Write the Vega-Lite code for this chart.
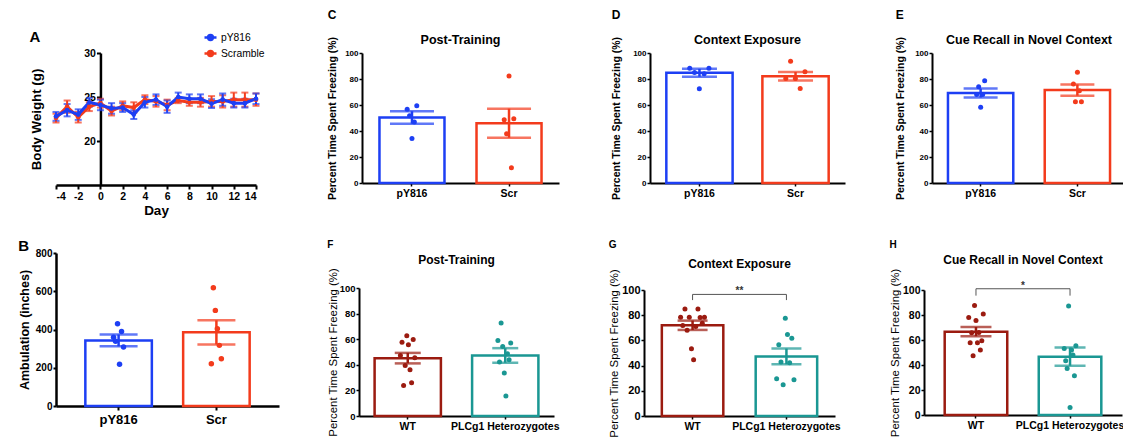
{
  "$schema": "https://vega.github.io/schema/vega-lite/v6.json",
  "background": "white",
  "padding": {"left": 18, "top": 9, "right": 2, "bottom": 2},
  "config": {
    "font": "Liberation Sans",
    "view": {"stroke": null},
    "axis": {"grid": false, "domainColor": "black", "tickColor": "black", "labelColor": "black", "titleColor": "black", "labelFontWeight": "bold", "titleFontWeight": "bold", "labelFont": "Liberation Sans", "titleFont": "Liberation Sans", "labelOverlap": false},
    "title": {"color": "black", "fontWeight": "bold", "font": "Liberation Sans"},
    "legend": {"labelFont": "Liberation Sans", "labelColor": "black"}
  },
  "resolve": {"scale": {"color": "independent", "stroke": "independent"}},
  "datasets": {
    "weights": [
      {"day": -4, "series": "Scramble", "mean": 22.6, "sem": 0.5},
      {"day": -3, "series": "Scramble", "mean": 23.9, "sem": 0.7},
      {"day": -2, "series": "Scramble", "mean": 22.7, "sem": 0.6},
      {"day": -1, "series": "Scramble", "mean": 23.9, "sem": 0.5},
      {"day": 0, "series": "Scramble", "mean": 24.3, "sem": 0.5},
      {"day": 1, "series": "Scramble", "mean": 23.4, "sem": 0.5},
      {"day": 2, "series": "Scramble", "mean": 24.0, "sem": 0.5},
      {"day": 3, "series": "Scramble", "mean": 23.8, "sem": 0.6},
      {"day": 4, "series": "Scramble", "mean": 24.7, "sem": 0.5},
      {"day": 5, "series": "Scramble", "mean": 24.5, "sem": 0.6},
      {"day": 6, "series": "Scramble", "mean": 24.1, "sem": 0.6},
      {"day": 7, "series": "Scramble", "mean": 24.6, "sem": 0.3},
      {"day": 8, "series": "Scramble", "mean": 24.4, "sem": 0.4},
      {"day": 9, "series": "Scramble", "mean": 24.4, "sem": 0.5},
      {"day": 10, "series": "Scramble", "mean": 24.5, "sem": 0.6},
      {"day": 11, "series": "Scramble", "mean": 24.5, "sem": 0.7},
      {"day": 12, "series": "Scramble", "mean": 24.7, "sem": 0.8},
      {"day": 13, "series": "Scramble", "mean": 24.7, "sem": 0.8},
      {"day": 14, "series": "Scramble", "mean": 24.7, "sem": 0.7},
      {"day": -4, "series": "pY816", "mean": 22.8, "sem": 0.5},
      {"day": -3, "series": "pY816", "mean": 23.5, "sem": 0.7},
      {"day": -2, "series": "pY816", "mean": 23.0, "sem": 0.6},
      {"day": -1, "series": "pY816", "mean": 24.4, "sem": 0.5},
      {"day": 0, "series": "pY816", "mean": 24.1, "sem": 0.6},
      {"day": 1, "series": "pY816", "mean": 23.7, "sem": 0.6},
      {"day": 2, "series": "pY816", "mean": 23.8, "sem": 0.5},
      {"day": 3, "series": "pY816", "mean": 23.0, "sem": 0.5},
      {"day": 4, "series": "pY816", "mean": 24.4, "sem": 0.6},
      {"day": 5, "series": "pY816", "mean": 24.7, "sem": 0.6},
      {"day": 6, "series": "pY816", "mean": 23.9, "sem": 0.7},
      {"day": 7, "series": "pY816", "mean": 25.0, "sem": 0.5},
      {"day": 8, "series": "pY816", "mean": 24.8, "sem": 0.5},
      {"day": 9, "series": "pY816", "mean": 24.8, "sem": 0.5},
      {"day": 10, "series": "pY816", "mean": 24.25, "sem": 0.5},
      {"day": 11, "series": "pY816", "mean": 24.7, "sem": 0.7},
      {"day": 12, "series": "pY816", "mean": 24.3, "sem": 0.5},
      {"day": 13, "series": "pY816", "mean": 24.3, "sem": 0.5},
      {"day": 14, "series": "pY816", "mean": 24.8, "sem": 0.6}
    ],
    "bars": [
      {"panel": "B", "group": "pY816", "mean": 343, "sem": 31},
      {"panel": "B", "group": "Scr", "mean": 385, "sem": 63},
      {"panel": "C", "group": "pY816", "mean": 50.4, "sem": 4.8},
      {"panel": "C", "group": "Scr", "mean": 46.0, "sem": 11.2},
      {"panel": "D", "group": "pY816", "mean": 84.8, "sem": 3.0},
      {"panel": "D", "group": "Scr", "mean": 82.1, "sem": 3.3},
      {"panel": "E", "group": "pY816", "mean": 69.2, "sem": 3.4},
      {"panel": "E", "group": "Scr", "mean": 71.5, "sem": 4.3},
      {"panel": "F", "group": "WT", "mean": 45.2, "sem": 4.1},
      {"panel": "F", "group": "PLCg1 Heterozygotes", "mean": 47.3, "sem": 5.7},
      {"panel": "G", "group": "WT", "mean": 72.0, "sem": 3.7},
      {"panel": "G", "group": "PLCg1 Heterozygotes", "mean": 47.3, "sem": 6.2},
      {"panel": "H", "group": "WT", "mean": 66.7, "sem": 3.7},
      {"panel": "H", "group": "PLCg1 Heterozygotes", "mean": 46.7, "sem": 7.3}
    ],
    "dots": [
      {"panel": "B", "group": "pY816", "id": 1, "value": 360},
      {"panel": "B", "group": "pY816", "id": 2, "value": 338},
      {"panel": "B", "group": "pY816", "id": 3, "value": 430},
      {"panel": "B", "group": "pY816", "id": 4, "value": 218},
      {"panel": "B", "group": "pY816", "id": 5, "value": 390},
      {"panel": "B", "group": "pY816", "id": 6, "value": 308},
      {"panel": "B", "group": "Scr", "id": 1, "value": 221},
      {"panel": "B", "group": "Scr", "id": 2, "value": 618},
      {"panel": "B", "group": "Scr", "id": 3, "value": 500},
      {"panel": "B", "group": "Scr", "id": 4, "value": 404},
      {"panel": "B", "group": "Scr", "id": 5, "value": 317},
      {"panel": "B", "group": "Scr", "id": 6, "value": 247},
      {"panel": "C", "group": "pY816", "id": 1, "value": 56.8},
      {"panel": "C", "group": "pY816", "id": 2, "value": 51.7},
      {"panel": "C", "group": "pY816", "id": 3, "value": 34.2},
      {"panel": "C", "group": "pY816", "id": 4, "value": 47.0},
      {"panel": "C", "group": "pY816", "id": 5, "value": 59.4},
      {"panel": "C", "group": "Scr", "id": 1, "value": 48.6},
      {"panel": "C", "group": "Scr", "id": 2, "value": 37.8},
      {"panel": "C", "group": "Scr", "id": 3, "value": 82.3},
      {"panel": "C", "group": "Scr", "id": 4, "value": 11.8},
      {"panel": "C", "group": "Scr", "id": 5, "value": 49.4},
      {"panel": "D", "group": "pY816", "id": 1, "value": 88.2},
      {"panel": "D", "group": "pY816", "id": 2, "value": 85.0},
      {"panel": "D", "group": "pY816", "id": 3, "value": 72.5},
      {"panel": "D", "group": "pY816", "id": 4, "value": 84.0},
      {"panel": "D", "group": "pY816", "id": 5, "value": 88.2},
      {"panel": "D", "group": "Scr", "id": 1, "value": 80.3},
      {"panel": "D", "group": "Scr", "id": 2, "value": 93.6},
      {"panel": "D", "group": "Scr", "id": 3, "value": 80.3},
      {"panel": "D", "group": "Scr", "id": 4, "value": 72.6},
      {"panel": "D", "group": "Scr", "id": 5, "value": 85.6},
      {"panel": "E", "group": "pY816", "id": 1, "value": 68.0},
      {"panel": "E", "group": "pY816", "id": 2, "value": 74.1},
      {"panel": "E", "group": "pY816", "id": 3, "value": 58.2},
      {"panel": "E", "group": "pY816", "id": 4, "value": 68.0},
      {"panel": "E", "group": "pY816", "id": 5, "value": 78.7},
      {"panel": "E", "group": "Scr", "id": 1, "value": 76.2},
      {"panel": "E", "group": "Scr", "id": 2, "value": 62.5},
      {"panel": "E", "group": "Scr", "id": 3, "value": 85.1},
      {"panel": "E", "group": "Scr", "id": 4, "value": 71.0},
      {"panel": "E", "group": "Scr", "id": 5, "value": 62.5},
      {"panel": "F", "group": "WT", "id": 1, "value": 47.3},
      {"panel": "F", "group": "WT", "id": 2, "value": 57.7},
      {"panel": "F", "group": "WT", "id": 3, "value": 23.9},
      {"panel": "F", "group": "WT", "id": 4, "value": 39.5},
      {"panel": "F", "group": "WT", "id": 5, "value": 62.6},
      {"panel": "F", "group": "WT", "id": 6, "value": 55.6},
      {"panel": "F", "group": "WT", "id": 7, "value": 36.1},
      {"panel": "F", "group": "WT", "id": 8, "value": 26.0},
      {"panel": "F", "group": "WT", "id": 9, "value": 59.7},
      {"panel": "F", "group": "WT", "id": 10, "value": 45.5},
      {"panel": "F", "group": "PLCg1 Heterozygotes", "id": 1, "value": 59.0},
      {"panel": "F", "group": "PLCg1 Heterozygotes", "id": 2, "value": 42.1},
      {"panel": "F", "group": "PLCg1 Heterozygotes", "id": 3, "value": 72.7},
      {"panel": "F", "group": "PLCg1 Heterozygotes", "id": 4, "value": 54.3},
      {"panel": "F", "group": "PLCg1 Heterozygotes", "id": 5, "value": 33.5},
      {"panel": "F", "group": "PLCg1 Heterozygotes", "id": 6, "value": 15.6},
      {"panel": "F", "group": "PLCg1 Heterozygotes", "id": 7, "value": 48.6},
      {"panel": "F", "group": "PLCg1 Heterozygotes", "id": 8, "value": 43.9},
      {"panel": "F", "group": "PLCg1 Heterozygotes", "id": 9, "value": 57.1},
      {"panel": "G", "group": "WT", "id": 1, "value": 78.4},
      {"panel": "G", "group": "WT", "id": 2, "value": 71.8},
      {"panel": "G", "group": "WT", "id": 3, "value": 85.0},
      {"panel": "G", "group": "WT", "id": 4, "value": 68.1},
      {"panel": "G", "group": "WT", "id": 5, "value": 78.4},
      {"panel": "G", "group": "WT", "id": 6, "value": 53.3},
      {"panel": "G", "group": "WT", "id": 7, "value": 44.6},
      {"panel": "G", "group": "WT", "id": 8, "value": 71.0},
      {"panel": "G", "group": "WT", "id": 9, "value": 85.0},
      {"panel": "G", "group": "WT", "id": 10, "value": 78.1},
      {"panel": "G", "group": "WT", "id": 11, "value": 73.6},
      {"panel": "G", "group": "WT", "id": 12, "value": 78.4},
      {"panel": "G", "group": "PLCg1 Heterozygotes", "id": 2, "value": 29.5},
      {"panel": "G", "group": "PLCg1 Heterozygotes", "id": 3, "value": 56.5},
      {"panel": "G", "group": "PLCg1 Heterozygotes", "id": 4, "value": 42.8},
      {"panel": "G", "group": "PLCg1 Heterozygotes", "id": 5, "value": 24.8},
      {"panel": "G", "group": "PLCg1 Heterozygotes", "id": 6, "value": 77.6},
      {"panel": "G", "group": "PLCg1 Heterozygotes", "id": 7, "value": 64.7},
      {"panel": "G", "group": "PLCg1 Heterozygotes", "id": 8, "value": 42.2},
      {"panel": "G", "group": "PLCg1 Heterozygotes", "id": 9, "value": 61.8},
      {"panel": "G", "group": "PLCg1 Heterozygotes", "id": 10, "value": 28.7},
      {"panel": "H", "group": "WT", "id": 1, "value": 78.1},
      {"panel": "H", "group": "WT", "id": 2, "value": 57.9},
      {"panel": "H", "group": "WT", "id": 3, "value": 65.9},
      {"panel": "H", "group": "WT", "id": 4, "value": 47.5},
      {"panel": "H", "group": "WT", "id": 5, "value": 87.7},
      {"panel": "H", "group": "WT", "id": 6, "value": 75.7},
      {"panel": "H", "group": "WT", "id": 7, "value": 57.9},
      {"panel": "H", "group": "WT", "id": 8, "value": 66.1},
      {"panel": "H", "group": "WT", "id": 9, "value": 52.0},
      {"panel": "H", "group": "WT", "id": 10, "value": 59.5},
      {"panel": "H", "group": "WT", "id": 11, "value": 80.8},
      {"panel": "H", "group": "PLCg1 Heterozygotes", "id": 2, "value": 53.3},
      {"panel": "H", "group": "PLCg1 Heterozygotes", "id": 3, "value": 43.5},
      {"panel": "H", "group": "PLCg1 Heterozygotes", "id": 4, "value": 37.3},
      {"panel": "H", "group": "PLCg1 Heterozygotes", "id": 5, "value": 87.2},
      {"panel": "H", "group": "PLCg1 Heterozygotes", "id": 6, "value": 6.1},
      {"panel": "H", "group": "PLCg1 Heterozygotes", "id": 7, "value": 52.0},
      {"panel": "H", "group": "PLCg1 Heterozygotes", "id": 8, "value": 48.0},
      {"panel": "H", "group": "PLCg1 Heterozygotes", "id": 9, "value": 31.5},
      {"panel": "H", "group": "PLCg1 Heterozygotes", "id": 10, "value": 55.5}
    ],
    "brackets": [
      {"panel": "G", "group": "WT", "y": 92, "k": 1},
      {"panel": "G", "group": "WT", "y": 96.5, "k": 2},
      {"panel": "G", "group": "PLCg1 Heterozygotes", "y": 96.5, "k": 3},
      {"panel": "G", "group": "PLCg1 Heterozygotes", "y": 92, "k": 4},
      {"panel": "H", "group": "WT", "y": 95.5, "k": 1},
      {"panel": "H", "group": "WT", "y": 101, "k": 2},
      {"panel": "H", "group": "PLCg1 Heterozygotes", "y": 101, "k": 3},
      {"panel": "H", "group": "PLCg1 Heterozygotes", "y": 95.5, "k": 4}
    ],
    "stars": [
      {"panel": "G", "group": "WT", "y": 96.5, "label": "**"},
      {"panel": "H", "group": "WT", "y": 101, "label": "*"}
    ]
  },
  "columns": 4,
  "align": "none",
  "spacing": {"row": 22, "column": 48},
  "concat": [
    {
      "width": 200, "height": 132,
      "title": {"text": "A", "anchor": "start", "frame": "bounds", "fontSize": 15, "offset": -28},
      "encoding": {
        "x": {"field": "day", "type": "quantitative", "title": "Day", "scale": {"domain": [-4, 14], "nice": false},
              "axis": {"values": [-4, -2, 0, 2, 4, 6, 8, 10, 12, 14], "labelExpr": "'' + datum.value", "titleFontSize": 13.5, "labelFontSize": 10.5, "domainWidth": 2.5, "tickWidth": 2, "tickSize": 4, "labelPadding": 2, "titlePadding": 2}},
        "y": {"field": "mean", "type": "quantitative", "title": "Body Weight (g)", "scale": {"domain": [15, 30], "nice": false, "zero": false},
              "axis": {"values": [20, 25, 30], "titleFontSize": 13.3, "labelFontSize": 10.5, "offset": -44.44, "titleX": -57, "titleY": 66, "domainWidth": 2.5, "tickWidth": 2, "tickSize": 4, "labelPadding": 1}},
        "color": {"field": "series", "type": "nominal", "scale": {"domain": ["pY816", "Scramble"], "range": ["#1d3ff4", "#f33b1c"]},
                  "legend": {"title": null, "orient": "none", "legendX": 134, "legendY": -36, "padding": 13, "labelFontSize": 10.3, "labelFontWeight": "normal", "symbolType": "M-1,0L1,0M-0.4,0A0.4,0.4,0,1,1,0.4,0A0.4,0.4,0,1,1,-0.4,0", "symbolSize": 144, "symbolStrokeWidth": 2.5, "labelOffset": 3, "rowPadding": 1, "values": ["pY816", "Scramble"],
                             "encode": {"symbols": {"update": {"fill": {"scale": "color", "field": "value"}}}}}}
      },
      "layer": [
        {
          "data": {"name": "weights"},
          "mark": {"type": "errorbar", "thickness": 2, "ticks": {"size": 7, "thickness": 2}},
          "encoding": {"yError": {"field": "sem"}}
        },
        {
          "data": {"name": "weights"},
          "mark": {"type": "line", "strokeWidth": 3, "point": {"filled": true, "size": 22}}
        }
      ]
    },
    {
      "title": {"text": "C", "anchor": "start", "frame": "bounds", "fontSize": 12, "offset": 12},
      "vconcat": [{
        "width": 197, "height": 130,
        "title": {"text": "Post-Training", "fontSize": 12.5, "frame": "group", "anchor": "middle", "offset": -10.5},
        "resolve": {"scale": {"xOffset": "independent"}},
        "encoding": {
          "x": {"field": "group", "type": "nominal", "title": null, "scale": {"domain": ["pY816", "Scr"], "paddingInner": 0.33, "paddingOuter": 0.18},
                "axis": {"labelAngle": 0, "labelFontSize": 10.5, "domainWidth": 2, "tickWidth": 1.5, "tickSize": 3, "labelPadding": 2}},
          "y": {"field": "mean", "type": "quantitative", "title": "Percent Time Spent Freezing (%)", "scale": {"domain": [0, 100]},
                "axis": {"values": [0, 20, 40, 60, 80, 100], "titleFontSize": 10.5, "labelFontSize": 8, "domainWidth": 2, "tickWidth": 1.5, "tickSize": 3, "labelPadding": 1, "titlePadding": 7}}
        },
        "layer": [
          {"data": {"name": "bars"}, "transform": [{"filter": "datum.panel === 'C'"}],
           "mark": {"type": "bar", "fill": "white", "strokeWidth": 2.5},
           "encoding": {"stroke": {"field": "group", "type": "nominal", "scale": {"domain": ["pY816", "Scr"], "range": ["#1d3ff4", "#f33b1c"]}, "legend": null}}},
          {"data": {"name": "bars"}, "transform": [{"filter": "datum.panel === 'C'"}],
           "mark": {"type": "errorbar", "thickness": 2.5, "ticks": {"size": 44, "thickness": 2.5}},
           "encoding": {"yError": {"field": "sem"}, "color": {"field": "group", "type": "nominal", "scale": {"domain": ["pY816", "Scr"], "range": ["#1d3ff4", "#f33b1c"]}, "legend": null}}},
          {"data": {"name": "dots"}, "transform": [{"filter": "datum.panel === 'C'"}],
           "mark": {"type": "circle", "size": 25, "opacity": 1},
           "encoding": {
             "xOffset": {"field": "id", "type": "nominal", "scale": {"type": "point", "range": [26.5, 38.5]}},
             "y": {"field": "value", "type": "quantitative", "title": "Percent Time Spent Freezing (%)", "axis": {"values": [0, 20, 40, 60, 80, 100], "titleFontSize": 10.5, "labelFontSize": 8, "domainWidth": 2, "tickWidth": 1.5, "tickSize": 3, "labelPadding": 1, "titlePadding": 7}},
             "color": {"field": "group", "type": "nominal", "legend": null}
           }}
        ]
      }]
    },
    {
      "title": {"text": "D", "anchor": "start", "frame": "bounds", "fontSize": 12, "offset": 12},
      "vconcat": [{
        "width": 195, "height": 130,
        "title": {"text": "Context Exposure", "fontSize": 12.5, "frame": "group", "anchor": "middle", "offset": -10.5},
        "resolve": {"scale": {"xOffset": "independent"}},
        "encoding": {
          "x": {"field": "group", "type": "nominal", "title": null, "scale": {"domain": ["pY816", "Scr"], "paddingInner": 0.31, "paddingOuter": 0.17},
                "axis": {"labelAngle": 0, "labelFontSize": 10.5, "domainWidth": 2, "tickWidth": 1.5, "tickSize": 3, "labelPadding": 2}},
          "y": {"field": "mean", "type": "quantitative", "title": "Percent Time Spent Freezing (%)", "scale": {"domain": [0, 100]},
                "axis": {"values": [0, 20, 40, 60, 80, 100], "titleFontSize": 10.5, "labelFontSize": 8, "domainWidth": 2, "tickWidth": 1.5, "tickSize": 3, "labelPadding": 1, "titlePadding": 11}}
        },
        "layer": [
          {"data": {"name": "bars"}, "transform": [{"filter": "datum.panel === 'D'"}],
           "mark": {"type": "bar", "fill": "white", "strokeWidth": 2.5},
           "encoding": {"stroke": {"field": "group", "type": "nominal", "scale": {"domain": ["pY816", "Scr"], "range": ["#1d3ff4", "#f33b1c"]}, "legend": null}}},
          {"data": {"name": "bars"}, "transform": [{"filter": "datum.panel === 'D'"}],
           "mark": {"type": "errorbar", "thickness": 2.5, "ticks": {"size": 35, "thickness": 2.5}},
           "encoding": {"yError": {"field": "sem"}, "color": {"field": "group", "type": "nominal", "scale": {"domain": ["pY816", "Scr"], "range": ["#1d3ff4", "#f33b1c"]}, "legend": null}}},
          {"data": {"name": "dots"}, "transform": [{"filter": "datum.panel === 'D'"}],
           "mark": {"type": "circle", "size": 25, "opacity": 1},
           "encoding": {
             "xOffset": {"field": "id", "type": "nominal", "scale": {"type": "point", "range": [21, 45]}},
             "y": {"field": "value", "type": "quantitative", "title": "Percent Time Spent Freezing (%)", "axis": {"values": [0, 20, 40, 60, 80, 100], "titleFontSize": 10.5, "labelFontSize": 8, "domainWidth": 2, "tickWidth": 1.5, "tickSize": 3, "labelPadding": 1, "titlePadding": 11}},
             "color": {"field": "group", "type": "nominal", "legend": null}
           }}
        ]
      }]
    },
    {
      "title": {"text": "E", "anchor": "start", "frame": "bounds", "fontSize": 12, "offset": 12},
      "vconcat": [{
        "width": 194, "height": 130,
        "title": {"text": "Cue Recall in Novel Context", "fontSize": 12.5, "frame": "group", "anchor": "middle", "offset": -10.5},
        "resolve": {"scale": {"xOffset": "independent"}},
        "encoding": {
          "x": {"field": "group", "type": "nominal", "title": null, "scale": {"domain": ["pY816", "Scr"], "paddingInner": 0.325, "paddingOuter": 0.165},
                "axis": {"labelAngle": 0, "labelFontSize": 10.5, "domainWidth": 2, "tickWidth": 1.5, "tickSize": 3, "labelPadding": 2}},
          "y": {"field": "mean", "type": "quantitative", "title": "Percent Time Spent Freezing (%)", "scale": {"domain": [0, 100]},
                "axis": {"values": [0, 20, 40, 60, 80, 100], "titleFontSize": 10.5, "labelFontSize": 8, "domainWidth": 2, "tickWidth": 1.5, "tickSize": 3, "labelPadding": 1, "titlePadding": 9}}
        },
        "layer": [
          {"data": {"name": "bars"}, "transform": [{"filter": "datum.panel === 'E'"}],
           "mark": {"type": "bar", "fill": "white", "strokeWidth": 2.5},
           "encoding": {"stroke": {"field": "group", "type": "nominal", "scale": {"domain": ["pY816", "Scr"], "range": ["#1d3ff4", "#f33b1c"]}, "legend": null}}},
          {"data": {"name": "bars"}, "transform": [{"filter": "datum.panel === 'E'"}],
           "mark": {"type": "errorbar", "thickness": 2.5, "ticks": {"size": 34, "thickness": 2.5}},
           "encoding": {"yError": {"field": "sem"}, "color": {"field": "group", "type": "nominal", "scale": {"domain": ["pY816", "Scr"], "range": ["#1d3ff4", "#f33b1c"]}, "legend": null}}},
          {"data": {"name": "dots"}, "transform": [{"filter": "datum.panel === 'E'"}],
           "mark": {"type": "circle", "size": 25, "opacity": 1},
           "encoding": {
             "xOffset": {"field": "id", "type": "nominal", "scale": {"type": "point", "range": [27.7, 37.7]}},
             "y": {"field": "value", "type": "quantitative", "title": "Percent Time Spent Freezing (%)", "axis": {"values": [0, 20, 40, 60, 80, 100], "titleFontSize": 10.5, "labelFontSize": 8, "domainWidth": 2, "tickWidth": 1.5, "tickSize": 3, "labelPadding": 1, "titlePadding": 9}},
             "color": {"field": "group", "type": "nominal", "legend": null}
           }}
        ]
      }]
    },
    {
      "title": {"text": "B", "anchor": "start", "frame": "bounds", "fontSize": 15, "offset": -6},
      "vconcat": [{
        "width": 223, "height": 153,
        "resolve": {"scale": {"xOffset": "independent"}},
        "encoding": {
          "x": {"field": "group", "type": "nominal", "title": null, "scale": {"domain": ["pY816", "Scr"], "paddingInner": 0.32, "paddingOuter": 0.3},
                "axis": {"labelAngle": 0, "labelFontSize": 13, "domainWidth": 2.5, "tickWidth": 2, "tickSize": 4, "labelPadding": 3}},
          "y": {"field": "mean", "type": "quantitative", "title": "Ambulation (inches)", "scale": {"domain": [0, 800]},
                "axis": {"values": [0, 200, 400, 600, 800], "titleFontSize": 12.5, "labelFontSize": 10, "domainWidth": 2.5, "tickWidth": 2, "tickSize": 3, "labelPadding": 1, "titlePadding": 4}}
        },
        "layer": [
          {"data": {"name": "bars"}, "transform": [{"filter": "datum.panel === 'B'"}],
           "mark": {"type": "bar", "fill": "white", "strokeWidth": 2.5},
           "encoding": {"stroke": {"field": "group", "type": "nominal", "scale": {"domain": ["pY816", "Scr"], "range": ["#1d3ff4", "#f33b1c"]}, "legend": null}}},
          {"data": {"name": "bars"}, "transform": [{"filter": "datum.panel === 'B'"}],
           "mark": {"type": "errorbar", "thickness": 2.5, "ticks": {"size": 38, "thickness": 2.5}},
           "encoding": {"yError": {"field": "sem"}, "color": {"field": "group", "type": "nominal", "scale": {"domain": ["pY816", "Scr"], "range": ["#1d3ff4", "#f33b1c"]}, "legend": null}}},
          {"data": {"name": "dots"}, "transform": [{"filter": "datum.panel === 'B'"}],
           "mark": {"type": "circle", "size": 30, "opacity": 1},
           "encoding": {
             "xOffset": {"field": "id", "type": "nominal", "scale": {"type": "point", "range": [27.2, 39.2]}},
             "y": {"field": "value", "type": "quantitative", "title": "Ambulation (inches)", "axis": {"values": [0, 200, 400, 600, 800], "titleFontSize": 12.5, "labelFontSize": 10, "domainWidth": 2.5, "tickWidth": 2, "tickSize": 3, "labelPadding": 1, "titlePadding": 4}},
             "color": {"field": "group", "type": "nominal", "legend": null}
           }}
        ]
      }]
    },
    {
      "title": {"text": "F", "anchor": "start", "frame": "bounds", "fontSize": 10, "offset": 4},
      "vconcat": [{
        "width": 195, "height": 128,
        "title": {"text": "Post-Training", "fontSize": 12, "frame": "group", "anchor": "middle", "offset": 1},
        "resolve": {"scale": {"xOffset": "independent"}},
        "encoding": {
          "x": {"field": "group", "type": "nominal", "title": null, "scale": {"domain": ["WT", "PLCg1 Heterozygotes"], "paddingInner": 0.32, "paddingOuter": 0.16},
                "axis": {"labelAngle": 0, "labelFontSize": 10.5, "domainWidth": 2, "tickWidth": 1.5, "tickSize": 3, "labelPadding": 2}},
          "y": {"field": "mean", "type": "quantitative", "title": "Percent Time Spent Freezing (%)", "scale": {"domain": [0, 100]},
                "axis": {"values": [0, 20, 40, 60, 80, 100], "titleFontSize": 11.4, "titleFontWeight": "normal", "labelFontSize": 9.5, "domainWidth": 2, "tickWidth": 1.5, "tickSize": 3, "labelPadding": 1, "titlePadding": 1}}
        },
        "layer": [
          {"data": {"name": "bars"}, "transform": [{"filter": "datum.panel === 'F'"}],
           "mark": {"type": "bar", "fill": "white", "strokeWidth": 2.5},
           "encoding": {"stroke": {"field": "group", "type": "nominal", "scale": {"domain": ["WT", "PLCg1 Heterozygotes"], "range": ["#9b1b10", "#1a9793"]}, "legend": null}}},
          {"data": {"name": "bars"}, "transform": [{"filter": "datum.panel === 'F'"}],
           "mark": {"type": "errorbar", "thickness": 2.5, "ticks": {"size": 26, "thickness": 2.5}},
           "encoding": {"yError": {"field": "sem"}, "color": {"field": "group", "type": "nominal", "scale": {"domain": ["WT", "PLCg1 Heterozygotes"], "range": ["#9b1b10", "#1a9793"]}, "legend": null}}},
          {"data": {"name": "dots"}, "transform": [{"filter": "datum.panel === 'F'"}],
           "mark": {"type": "circle", "size": 25, "opacity": 1},
           "encoding": {
             "xOffset": {"field": "id", "type": "nominal", "scale": {"type": "point", "range": [25, 41]}},
             "y": {"field": "value", "type": "quantitative", "title": "Percent Time Spent Freezing (%)", "axis": {"values": [0, 20, 40, 60, 80, 100], "titleFontSize": 11.4, "titleFontWeight": "normal", "labelFontSize": 9.5, "domainWidth": 2, "tickWidth": 1.5, "tickSize": 3, "labelPadding": 1, "titlePadding": 1}},
             "color": {"field": "group", "type": "nominal", "legend": null}
           }}
        ]
      }]
    },
    {
      "title": {"text": "G", "anchor": "start", "frame": "bounds", "fontSize": 10, "offset": 8},
      "vconcat": [{
        "width": 191, "height": 126,
        "title": {"text": "Context Exposure", "fontSize": 12, "frame": "group", "anchor": "middle", "offset": -2},
        "resolve": {"scale": {"xOffset": "independent"}},
        "encoding": {
          "x": {"field": "group", "type": "nominal", "title": null, "scale": {"domain": ["WT", "PLCg1 Heterozygotes"], "paddingInner": 0.345, "paddingOuter": 0.19},
                "axis": {"labelAngle": 0, "labelFontSize": 10.5, "domainWidth": 2, "tickWidth": 1.5, "tickSize": 3, "labelPadding": 2}},
          "y": {"field": "mean", "type": "quantitative", "title": "Percent Time Spent Freezing (%)", "scale": {"domain": [0, 100]},
                "axis": {"values": [0, 20, 40, 60, 80, 100], "titleFontSize": 11.4, "titleFontWeight": "normal", "labelFontSize": 11, "domainWidth": 2, "tickWidth": 1.5, "tickSize": 3, "labelPadding": 1, "titlePadding": 2}}
        },
        "layer": [
          {"data": {"name": "bars"}, "transform": [{"filter": "datum.panel === 'G'"}],
           "mark": {"type": "bar", "fill": "white", "strokeWidth": 2.5},
           "encoding": {"stroke": {"field": "group", "type": "nominal", "scale": {"domain": ["WT", "PLCg1 Heterozygotes"], "range": ["#9b1b10", "#1a9793"]}, "legend": null}}},
          {"data": {"name": "bars"}, "transform": [{"filter": "datum.panel === 'G'"}],
           "mark": {"type": "errorbar", "thickness": 2.5, "ticks": {"size": 30, "thickness": 2.5}},
           "encoding": {"yError": {"field": "sem"}, "color": {"field": "group", "type": "nominal", "scale": {"domain": ["WT", "PLCg1 Heterozygotes"], "range": ["#9b1b10", "#1a9793"]}, "legend": null}}},
          {"data": {"name": "dots"}, "transform": [{"filter": "datum.panel === 'G'"}],
           "mark": {"type": "circle", "size": 25, "opacity": 1},
           "encoding": {
             "xOffset": {"field": "id", "type": "nominal", "scale": {"type": "point", "range": [17.7, 43.7]}},
             "y": {"field": "value", "type": "quantitative", "title": "Percent Time Spent Freezing (%)", "axis": {"values": [0, 20, 40, 60, 80, 100], "titleFontSize": 11.4, "titleFontWeight": "normal", "labelFontSize": 11, "domainWidth": 2, "tickWidth": 1.5, "tickSize": 3, "labelPadding": 1, "titlePadding": 2}},
             "color": {"field": "group", "type": "nominal", "legend": null}
           }},
          {"data": {"name": "brackets"}, "transform": [{"filter": "datum.panel === 'G'"}],
           "mark": {"type": "line", "color": "#555555", "strokeWidth": 1},
           "encoding": {
             "y": {"field": "y", "type": "quantitative", "title": "Percent Time Spent Freezing (%)", "axis": {"values": [0, 20, 40, 60, 80, 100], "titleFontSize": 11.4, "titleFontWeight": "normal", "labelFontSize": 11, "domainWidth": 2, "tickWidth": 1.5, "tickSize": 3, "labelPadding": 1, "titlePadding": 2}},
             "order": {"field": "k"}
           }},
          {"data": {"name": "stars"}, "transform": [{"filter": "datum.panel === 'G'"}],
           "mark": {"type": "text", "fontSize": 10, "fontWeight": "bold", "color": "#333333", "baseline": "alphabetic"},
           "encoding": {
             "x": {"field": "group", "type": "nominal", "bandPosition": 1.263, "title": null},
             "y": {"field": "y", "type": "quantitative", "title": "Percent Time Spent Freezing (%)", "axis": {"values": [0, 20, 40, 60, 80, 100], "titleFontSize": 11.4, "titleFontWeight": "normal", "labelFontSize": 11, "domainWidth": 2, "tickWidth": 1.5, "tickSize": 3, "labelPadding": 1, "titlePadding": 2}},
             "text": {"field": "label"}
           }}
        ]
      }]
    },
    {
      "title": {"text": "H", "anchor": "start", "frame": "bounds", "fontSize": 10, "offset": 4},
      "vconcat": [{
        "width": 198, "height": 125,
        "title": {"text": "Cue Recall in Novel Context", "fontSize": 12, "frame": "group", "anchor": "middle", "offset": 1.5},
        "resolve": {"scale": {"xOffset": "independent"}},
        "encoding": {
          "x": {"field": "group", "type": "nominal", "title": null, "scale": {"domain": ["WT", "PLCg1 Heterozygotes"], "paddingInner": 0.335, "paddingOuter": 0.22},
                "axis": {"labelAngle": 0, "labelFontSize": 10.5, "domainWidth": 2, "tickWidth": 1.5, "tickSize": 3, "labelPadding": 2}},
          "y": {"field": "mean", "type": "quantitative", "title": "Percent Time Spent Freezing (%)", "scale": {"domain": [0, 100]},
                "axis": {"values": [0, 20, 40, 60, 80, 100], "titleFontSize": 11.4, "titleFontWeight": "normal", "labelFontSize": 10.5, "domainWidth": 2, "tickWidth": 1.5, "tickSize": 3, "labelPadding": 1, "titlePadding": 2}}
        },
        "layer": [
          {"data": {"name": "bars"}, "transform": [{"filter": "datum.panel === 'H'"}],
           "mark": {"type": "bar", "fill": "white", "strokeWidth": 2.5},
           "encoding": {"stroke": {"field": "group", "type": "nominal", "scale": {"domain": ["WT", "PLCg1 Heterozygotes"], "range": ["#9b1b10", "#1a9793"]}, "legend": null}}},
          {"data": {"name": "bars"}, "transform": [{"filter": "datum.panel === 'H'"}],
           "mark": {"type": "errorbar", "thickness": 2.5, "ticks": {"size": 31, "thickness": 2.5}},
           "encoding": {"yError": {"field": "sem"}, "color": {"field": "group", "type": "nominal", "scale": {"domain": ["WT", "PLCg1 Heterozygotes"], "range": ["#9b1b10", "#1a9793"]}, "legend": null}}},
          {"data": {"name": "dots"}, "transform": [{"filter": "datum.panel === 'H'"}],
           "mark": {"type": "circle", "size": 25, "opacity": 1},
           "encoding": {
             "xOffset": {"field": "id", "type": "nominal", "scale": {"type": "point", "range": [23.3, 39.3]}},
             "y": {"field": "value", "type": "quantitative", "title": "Percent Time Spent Freezing (%)", "axis": {"values": [0, 20, 40, 60, 80, 100], "titleFontSize": 11.4, "titleFontWeight": "normal", "labelFontSize": 10.5, "domainWidth": 2, "tickWidth": 1.5, "tickSize": 3, "labelPadding": 1, "titlePadding": 2}},
             "color": {"field": "group", "type": "nominal", "legend": null}
           }},
          {"data": {"name": "brackets"}, "transform": [{"filter": "datum.panel === 'H'"}],
           "mark": {"type": "line", "color": "#555555", "strokeWidth": 1},
           "encoding": {
             "y": {"field": "y", "type": "quantitative", "title": "Percent Time Spent Freezing (%)", "axis": {"values": [0, 20, 40, 60, 80, 100], "titleFontSize": 11.4, "titleFontWeight": "normal", "labelFontSize": 10.5, "domainWidth": 2, "tickWidth": 1.5, "tickSize": 3, "labelPadding": 1, "titlePadding": 2}},
             "order": {"field": "k"}
           }},
          {"data": {"name": "stars"}, "transform": [{"filter": "datum.panel === 'H'"}],
           "mark": {"type": "text", "fontSize": 10, "fontWeight": "bold", "color": "#333333", "baseline": "alphabetic"},
           "encoding": {
             "x": {"field": "group", "type": "nominal", "bandPosition": 1.252, "title": null},
             "y": {"field": "y", "type": "quantitative", "title": "Percent Time Spent Freezing (%)", "axis": {"values": [0, 20, 40, 60, 80, 100], "titleFontSize": 11.4, "titleFontWeight": "normal", "labelFontSize": 10.5, "domainWidth": 2, "tickWidth": 1.5, "tickSize": 3, "labelPadding": 1, "titlePadding": 2}},
             "text": {"field": "label"}
           }}
        ]
      }]
    }
  ]
}
